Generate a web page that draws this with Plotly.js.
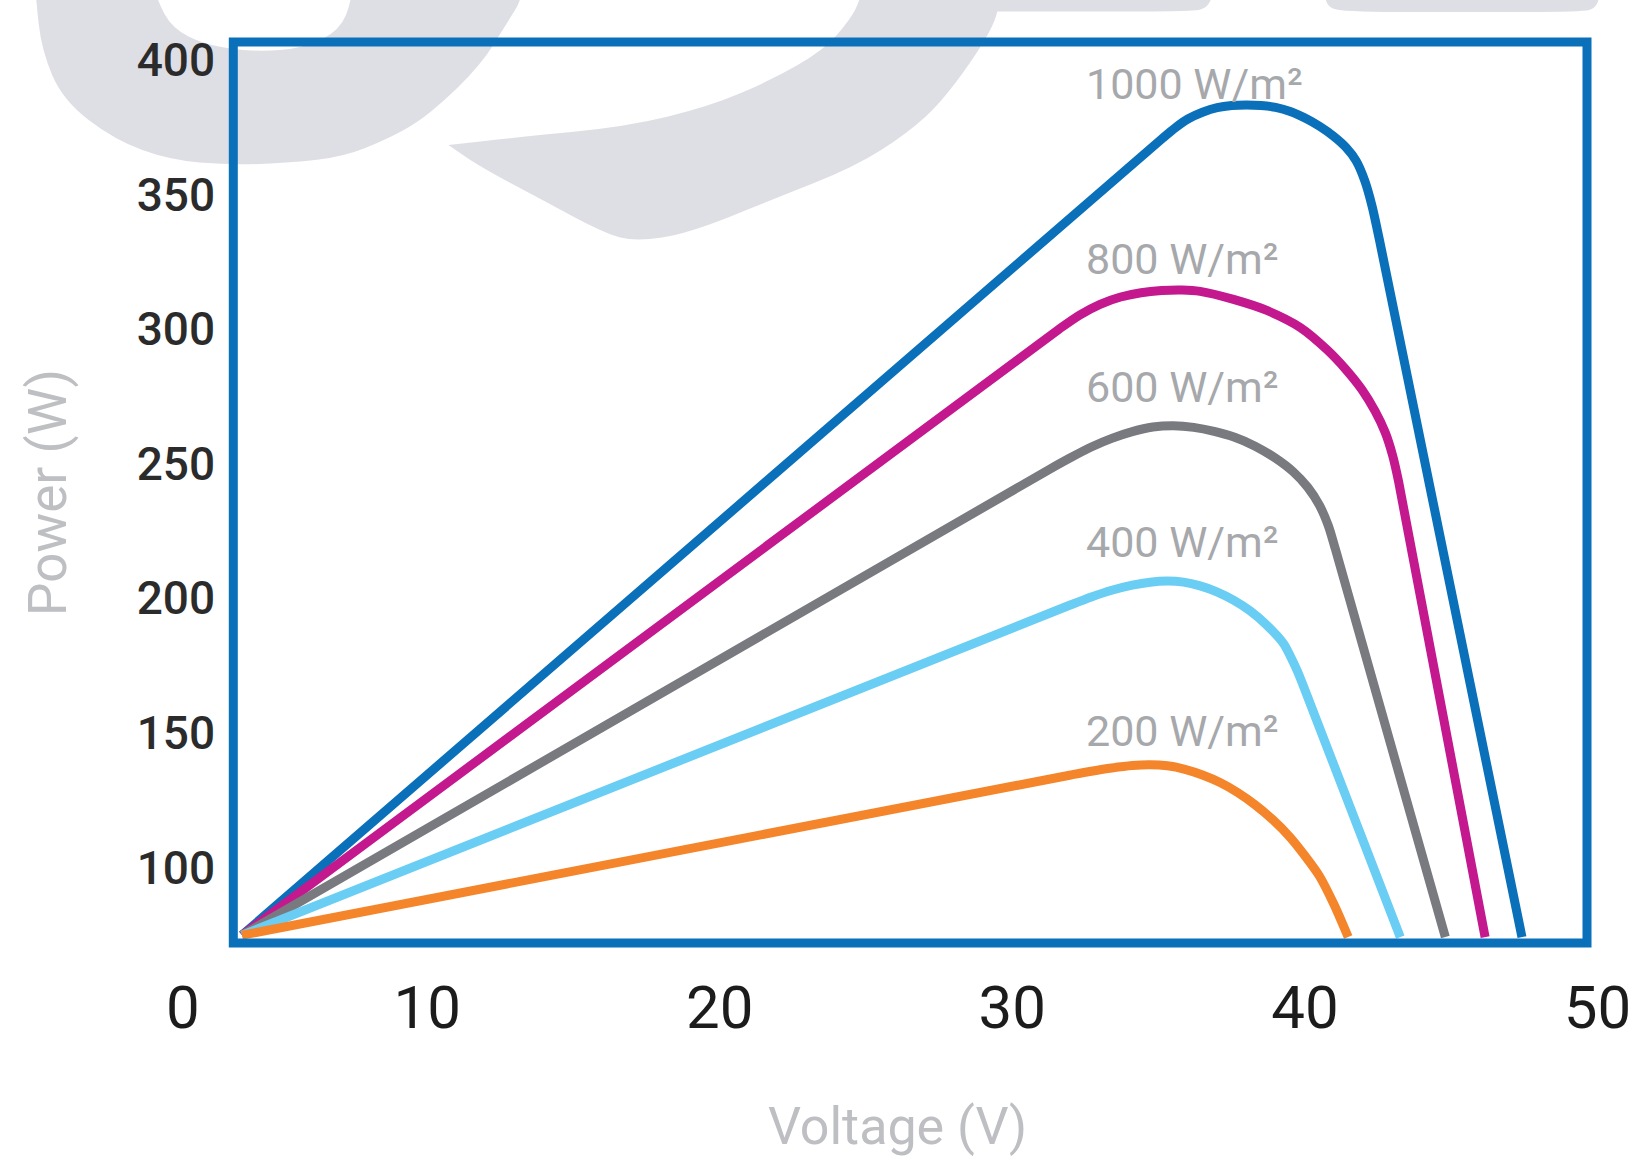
<!DOCTYPE html>
<html><head><meta charset="utf-8">
<script src="https://cdn.plot.ly/plotly-3.0.1.min.js"></script>
<style>html,body{margin:0;padding:0;background:#fff;}#chart{width:1635px;height:1161px;}</style>
</head><body><div id="chart"></div>
<script>
// ---------------- data ----------------
const seriesNames = ["1000 W/m²", "800 W/m²", "600 W/m²", "400 W/m²", "200 W/m²"];

const voltage1000 = [3.67, 35.15, 35.6, 36.0, 36.5, 37.0, 37.5, 38.0, 38.5, 39.0, 39.5, 40.07, 40.5, 40.97, 41.4, 41.75, 42.05, 42.3, 42.55, 47.42];
const power1000   = [74.9, 371.0, 375.0, 378.0, 380.5, 382.2, 383.0, 383.2, 383.0, 382.3, 380.8, 378.0, 375.3, 371.7, 367.5, 362.5, 355.0, 345.5, 333.0, 74.2];

const voltage800 = [3.67, 31.6, 32.3, 33.0, 33.7, 34.4, 35.1, 35.8, 36.42, 37.56, 38.7, 39.84, 40.75, 41.4, 41.95, 42.4, 42.75, 43.0, 43.2, 46.16];
const power800   = [74.9, 300.0, 305.2, 309.2, 311.9, 313.5, 314.3, 314.5, 314.0, 311.0, 306.9, 300.6, 292.4, 285.0, 277.5, 269.5, 261.5, 253.0, 243.5, 74.2];

const voltage600 = [3.67, 31.3, 32.0, 32.7, 33.4, 34.1, 34.8, 35.5, 36.2, 36.9, 37.6, 38.3, 39.0, 39.6, 40.1, 40.5, 40.8, 41.05, 44.8];
const power600   = [74.9, 248.1, 252.3, 256.2, 259.4, 261.9, 263.6, 264.1, 263.5, 262.0, 259.8, 256.5, 252.0, 247.0, 241.2, 234.5, 227.0, 218.0, 74.2];

const voltage400 = [3.67, 32.0, 32.7, 33.4, 34.1, 34.71, 35.3, 35.85, 36.42, 36.99, 37.56, 38.13, 38.7, 39.27, 39.5, 39.75, 40.0, 43.26];
const power400   = [74.9, 197.6, 200.5, 203.0, 204.9, 206.0, 206.4, 206.0, 204.6, 202.4, 199.3, 195.3, 190.0, 183.2, 178.6, 172.8, 166.0, 74.2];

const voltage200 = [3.67, 32.0, 32.7, 33.4, 34.1, 34.7, 35.3, 35.9, 36.5, 37.1, 37.7, 38.3, 38.9, 39.5, 40.0, 40.5, 41.0, 41.48];
const power200   = [74.9, 134.4, 135.8, 137.0, 137.9, 138.2, 137.8, 136.5, 134.4, 131.6, 127.9, 123.3, 117.8, 111.2, 104.4, 96.8, 86.2, 74.2];

const xTickValues = [0, 10, 20, 30, 40, 50];
const xTickLabels = ["0", "10", "20", "30", "40", "50"];
const yTickValues = [100, 150, 200, 250, 300, 350, 400];
const xAxisTitle = "Voltage (V)";
const yAxisTitle = "Power (W)";

// ---------------- styling / layout ----------------
const seriesColors = ["#0a70ba", "#c3188e", "#797a7f", "#6acdf4", "#f5852a"];
const voltages = [voltage1000, voltage800, voltage600, voltage400, voltage200];
const powers = [power1000, power800, power600, power400, power200];

const FW = 1635, FH = 1161;
const L = 180, R = 20, T = 42, B = 218;
const PW = FW - L - R, PH = FH - T - B;
function pX(x){ return (x - L) / PW; }
function pY(y){ return 1 - (y - T) / PH; }
function pt(p){ return pX(p[0]).toFixed(5) + "," + pY(p[1]).toFixed(5); }
function smoothPath(pts){
  let d = "M" + pt(pts[0]);
  for (let i = 1; i < pts.length - 1; i++) {
    const m = [(pts[i][0] + pts[i+1][0]) / 2, (pts[i][1] + pts[i+1][1]) / 2];
    d += " Q" + pt(pts[i]) + " " + pt(m);
  }
  d += " L" + pt(pts[pts.length - 1]) + " Z";
  return d;
}
const wm = "#dedee5";
const shapeA = [[34,-30],[36,0],[41.7,50],[62.6,100],[114.7,140],[170,160],[229.4,165],[290,163],[344,156.7],[385,140],[417,123],[445,100],[469,76.7],[487,55],[500.5,33.3],[512,15],[521,0],[525,-30],[440,-30],[352,-30],[352,0],[340,30],[305,48],[255,52],[205,45],[172,28],[157,0],[150,-30]];
const shapeB = [[448.4,145],[521.4,136.7],[625.7,126.7],[709,106.7],[771.6,80],[823.8,50],[849.8,20],[860.3,0],[865,-30],[940,-30],[1005,-30],[1001,0],[990.6,33.3],[943.7,100],[907.2,133.3],[855,166.7],[771.6,200],[688.2,233.3],[636,241.7],[604.8,233.3],[542.2,200],[479.7,166.7],[448.4,145]];
const band1 = [[900,-30],[1050,-30],[1200,-30],[1213,-5],[1207,8],[1192,11.5],[1050,11.5],[960,11.5],[900,11.5]];
const band2 = [[1330,-30],[1460,-30],[1592,-30],[1600,-5],[1596,8],[1582,12],[1460,12],[1340,12],[1326,5],[1325,-10],[1330,-30]];

const shapes = [shapeA, shapeB, band1, band2].map(s => ({
  type: "path", xref: "paper", yref: "paper", path: smoothPath(s),
  fillcolor: wm, line: {width: 0}, layer: "below"
}));
shapes.push({
  type: "rect", xref: "paper", yref: "paper",
  x0: pX(233.3), x1: pX(1587), y0: 0, y1: 1,
  line: {color: "#0a70ba", width: 9}, fillcolor: "rgba(0,0,0,0)", layer: "above"
});

const traces = voltages.map((v, i) => ({
  type: "scatter", mode: "lines", name: seriesNames[i],
  x: v, y: powers[i],
  line: {color: seriesColors[i], width: 9, shape: "spline", smoothing: 0.8},
  hoverinfo: "skip", showlegend: false
}));

const labelX = 32.46;
const labelY = [390.9, 326.2, 278.3, 221.0, 150.7];
const annotations = seriesNames.map((n, i) => ({
  x: labelX, y: labelY[i], xref: "x", yref: "y", text: n, showarrow: false,
  xanchor: "left", yanchor: "middle",
  font: {family: "Roboto, 'Open Sans', sans-serif", size: 43, color: "#a6a8ab"}
}));

const layout = {
  width: FW, height: FH,
  margin: {l: L, r: R, t: T, b: B, pad: 0},
  paper_bgcolor: "#ffffff", plot_bgcolor: "rgba(0,0,0,0)",
  showlegend: false, hovermode: false,
  font: {family: "Roboto, 'Open Sans', sans-serif"},
  xaxis: {
    range: [1.55, 50.6], showgrid: false, zeroline: false, showline: false,
    tickmode: "array",
    tickvals: xTickValues.map(v => v === 0 ? 1.65 : v),
    ticktext: xTickLabels,
    ticks: "outside", ticklen: 12, tickcolor: "rgba(0,0,0,0)",
    tickfont: {family: "Roboto, sans-serif", size: 60, color: "#1c1c1c"},
    title: {text: xAxisTitle, standoff: 65, font: {family: "Roboto, sans-serif", size: 52, color: "#bdbfc2"}},
    fixedrange: true
  },
  yaxis: {
    range: [72.0, 406.6], anchor: "free", position: pX(233.3),
    showgrid: false, zeroline: false, showline: false,
    tickmode: "array", tickvals: yTickValues, ticktext: yTickValues.map(String),
    ticks: "outside", ticklen: 9, tickcolor: "rgba(0,0,0,0)",
    tickfont: {family: "Roboto, sans-serif", size: 46, color: "#2b2b2b", weight: 500},
    title: {text: yAxisTitle, standoff: 52, font: {family: "Roboto, sans-serif", size: 53, color: "#bdbfc2"}},
    fixedrange: true
  },
  shapes: shapes,
  annotations: annotations
};

Plotly.newPlot("chart", traces, layout, {staticPlot: true, displayModeBar: false});
</script>
</body></html>
